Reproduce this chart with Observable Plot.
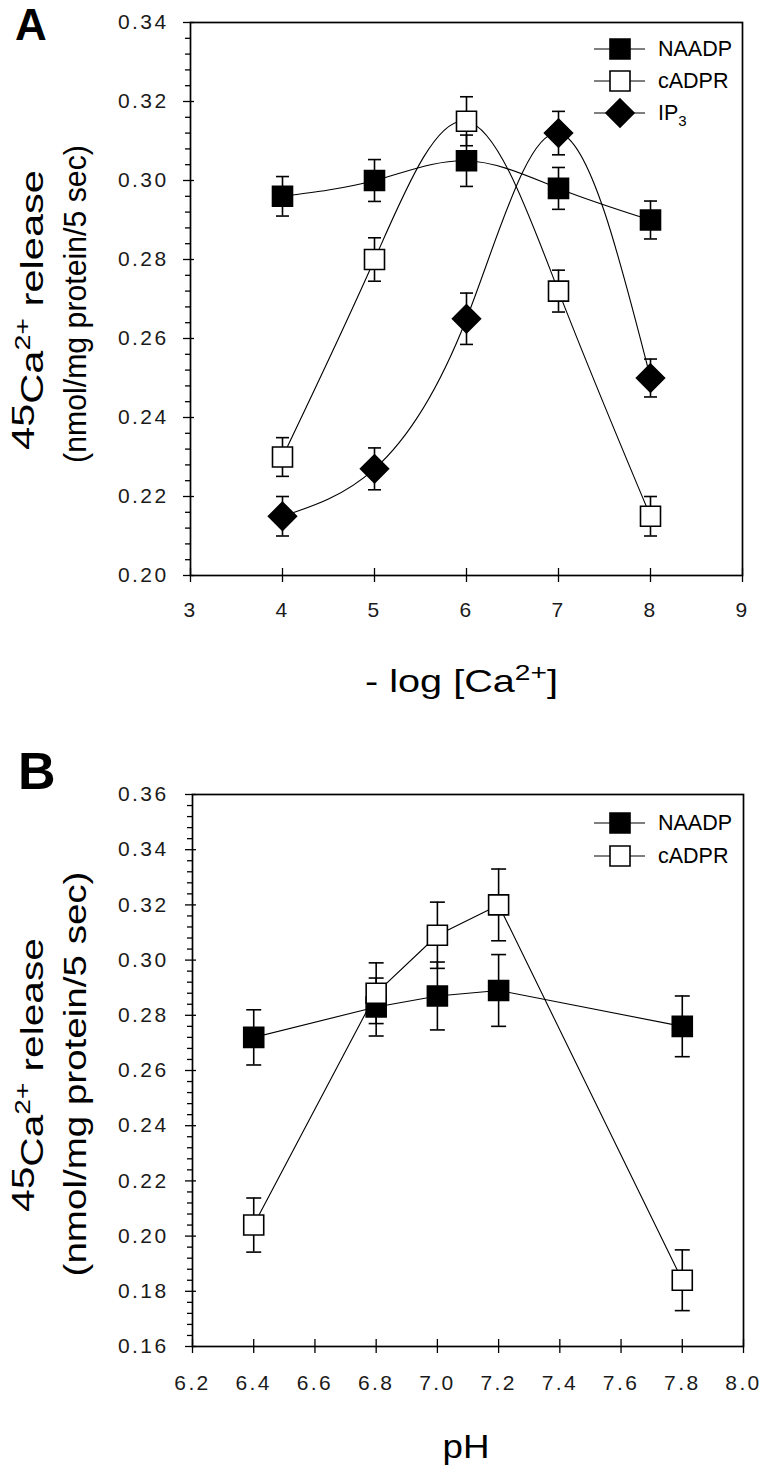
<!DOCTYPE html>
<html><head><meta charset="utf-8">
<script src="https://cdn.jsdelivr.net/npm/d3@7"></script>
<script src="https://cdn.jsdelivr.net/npm/@observablehq/plot@0.6"></script>
<style>
body{margin:0;background:#fff;}
#wrap{width:760px;}
svg{display:block;}
</style></head><body><div id="wrap"></div>
<script>
// ---------- Panel A data: -log[Ca2+] ----------
const caX = [4, 5, 6, 7, 8];
const caNAADP = [0.296, 0.300, 0.305, 0.298, 0.290];
const caNAADPerr = [0.005, 0.0053, 0.0065, 0.0053, 0.0048];
const caCADPR = [0.230, 0.280, 0.315, 0.272, 0.215];
const caCADPRerr = [0.0049, 0.0055, 0.0062, 0.0053, 0.005];
const caIP3 = [0.215, 0.227, 0.265, 0.312, 0.250];
const caIP3err = [0.005, 0.0053, 0.0065, 0.0055, 0.0048];
const caXTicks = [3, 4, 5, 6, 7, 8, 9];
const caYTicks = [0.20, 0.22, 0.24, 0.26, 0.28, 0.30, 0.32, 0.34];

// ---------- Panel B data: pH ----------
const pHX = [6.4, 6.8, 7.0, 7.2, 7.8];
const pHNAADP = [0.272, 0.283, 0.287, 0.289, 0.276];
const pHNAADPerr = [0.010, 0.0105, 0.0123, 0.013, 0.011];
const pHCADPR = [0.204, 0.288, 0.309, 0.320, 0.184];
const pHCADPRerr = [0.0098, 0.011, 0.012, 0.013, 0.011];
const pHXTicks = [6.2, 6.4, 6.6, 6.8, 7.0, 7.2, 7.4, 7.6, 7.8, 8.0];
const pHYTicks = [0.16, 0.18, 0.20, 0.22, 0.24, 0.26, 0.28, 0.30, 0.32, 0.34, 0.36];

const FONT = "'Liberation Sans', Arial, Helvetica, sans-serif";

// minor ticks: 4 between each major
function minors(majors) {
  const out = [];
  for (let i = 0; i < majors.length - 1; i++)
    for (let k = 1; k < 5; k++) out.push(majors[i] + (majors[i + 1] - majors[i]) * k / 5);
  return out;
}

// symbols
const squareSym = {draw(c, size) { const r = Math.sqrt(size / Math.PI); c.moveTo(-r, -r); c.lineTo(r, -r); c.lineTo(r, r); c.lineTo(-r, r); c.closePath(); }};
const diamondSym = {draw(c, size) { const r = Math.sqrt(size / Math.PI); c.moveTo(0, -r); c.lineTo(r, 0); c.lineTo(0, r); c.lineTo(-r, 0); c.closePath(); }};
const capSym = {draw(c, size) { const r = Math.sqrt(size / Math.PI); c.moveTo(-r, 0); c.lineTo(r, 0); }};

const styles = {
  NAADP: {sym: squareSym, r: 10, fill: "black"},
  cADPR: {sym: squareSym, r: 10, fill: "white"},
  IP3: {sym: diamondSym, r: 14, fill: "black"}
};

function buildRows(xs, series) {
  const rows = [];
  for (const [name, ys, es] of series)
    xs.forEach((x, i) => rows.push({series: name, x, y: ys[i], e: es[i]}));
  return rows;
}

const rowsA = buildRows(caX, [["NAADP", caNAADP, caNAADPerr], ["cADPR", caCADPR, caCADPRerr], ["IP3", caIP3, caIP3err]]);
const rowsB = buildRows(pHX, [["NAADP", pHNAADP, pHNAADPerr], ["cADPR", pHCADPR, pHCADPRerr]]);

function seriesMarks(rows, name, capR) {
  const d = rows.filter(r => r.series === name);
  const s = styles[name];
  return [
    Plot.ruleX(d, {x: "x", y1: r => r.y - r.e, y2: r => r.y + r.e, stroke: "black", strokeWidth: 1.6}),
    Plot.dot(d, {x: "x", y: r => r.y + r.e, symbol: capSym, r: capR, stroke: "black", fill: "none", strokeWidth: 1.6}),
    Plot.dot(d, {x: "x", y: r => r.y - r.e, symbol: capSym, r: capR, stroke: "black", fill: "none", strokeWidth: 1.6}),
    Plot.dot(d, {x: "x", y: "y", symbol: s.sym, r: s.r, fill: s.fill, stroke: "black", strokeWidth: 1.6})
  ];
}

function axes(xTicks, yTicks, xFmt, yPad, xPad) {
  return [
    Plot.axisY(minors(yTicks), {tickSize: 5, tickFormat: () => "", strokeWidth: 1.3, label: null}),
    Plot.axisY(yTicks, {tickSize: 11, dx: 4, tickFormat: () => "", strokeWidth: 1.3, label: null}),
    Plot.axisY(yTicks, {tickSize: 0, tickPadding: yPad, tickFormat: d3.format(".2f"), label: null, fontSize: 21, fill: "#1a1a1a"}),
    Plot.axisX(xTicks, {tickSize: 14, dy: -7, tickFormat: () => "", strokeWidth: 1.3, label: null}),
    Plot.axisX(xTicks, {tickSize: 0, tickPadding: xPad, tickFormat: xFmt, label: null, fontSize: 21, fill: "#1a1a1a"})
  ];
}

const baseStyle = {fontFamily: FONT, fontSize: "21px", color: "black", background: "white", overflow: "visible"};

const plotA = Plot.plot({
  width: 760, height: 720,
  marginLeft: 190, marginRight: 18, marginTop: 22, marginBottom: 145,
  x: {domain: [3, 9], label: null},
  y: {domain: [0.20, 0.34], label: null},
  style: baseStyle,
  marks: [
    Plot.line(rowsA, {x: "x", y: "y", z: "series", curve: "natural", stroke: "black", strokeWidth: 1.1}),
    ...seriesMarks(rowsA, "NAADP", 6.5),
    ...seriesMarks(rowsA, "cADPR", 6.5),
    ...seriesMarks(rowsA, "IP3", 6.5),
    ...axes(caXTicks, caYTicks, d => String(d), 22, 27),
    Plot.frame({stroke: "black", strokeWidth: 1.7})
  ]
});

const plotB = Plot.plot({
  width: 760, height: 747,
  marginLeft: 192, marginRight: 17, marginTop: 74, marginBottom: 121,
  x: {domain: [6.2, 8.0], label: null},
  y: {domain: [0.16, 0.36], label: null},
  style: baseStyle,
  marks: [
    Plot.line(rowsB, {x: "x", y: "y", z: "series", stroke: "black", strokeWidth: 1.1}),
    ...seriesMarks(rowsB, "NAADP", 7.5),
    ...seriesMarks(rowsB, "cADPR", 7.5),
    ...axes(pHXTicks, pHYTicks, d3.format(".1f"), 24, 29),
    Plot.frame({stroke: "black", strokeWidth: 1.7})
  ]
});

const wrap = document.getElementById("wrap");
wrap.appendChild(plotA);
wrap.appendChild(plotB);

// wide letter spacing of the original tick labels
for (const svg of [plotA, plotB]) {
  d3.select(svg).selectAll('g[aria-label$="tick label"] text')
    .style("letter-spacing", "2.4px").style("font-size", "21px");
}

function addText(svgNode, {x, y, rotate = 0, target = null, size, parts, anchor = "middle", weight = "normal"}) {
  const svg = d3.select(svgNode);
  const g = svg.append("g").attr("transform", `translate(${x},${y}) rotate(${rotate})`);
  const inner = g.append("g");
  const t = inner.append("text")
    .attr("text-anchor", anchor).attr("font-size", size).attr("font-family", FONT)
    .attr("font-weight", weight).attr("letter-spacing", 0).attr("fill", "black");
  for (const p of parts)
    t.append("tspan").attr("font-size", p.size || size).attr("dy", p.dy || 0).text(p.text);
  if (target) {
    const w = t.node().getComputedTextLength();
    if (w > 0) inner.attr("transform", `scale(${target / w},1)`);
  }
}

function yLabel(svgNode, cy1, cy2, len1, len2, base1, base2) {
  addText(svgNode, {x: base1, y: cy1, rotate: -90, target: len1, size: 32, parts: [
    {text: "45", dy: -9}, {text: "Ca", dy: 9}, {text: "2+", size: 22, dy: -13}, {text: " release", dy: 13}
  ]});
  addText(svgNode, {x: base2, y: cy2, rotate: -90, target: len2, size: 32, parts: [
    {text: "(nmol/mg protein/5 sec)"}
  ]});
}

function legend(svgNode, entries, rows) {
  const svg = d3.select(svgNode);
  entries.forEach((name, i) => {
    const y = rows[i];
    const s = styles[name];
    svg.append("line").attr("x1", 594).attr("x2", 645).attr("y1", y).attr("y2", y).attr("stroke", "black").attr("stroke-width", 1.2);
    svg.append("path").attr("transform", `translate(620,${y})`)
      .attr("d", d3.symbol(s.sym, s.r * s.r * Math.PI)())
      .attr("fill", s.fill).attr("stroke", "black").attr("stroke-width", 1.6);
    const parts = name === "IP3" ? [{text: "IP"}, {text: "3", size: 15, dy: 6}] : [{text: name}];
    addText(svgNode, {x: 658, y: y + 7, size: 21.5, parts, anchor: "start"});
  });
}

// Panel A annotations
addText(plotA, {x: 15, y: 40, size: 44, weight: "bold", parts: [{text: "A"}], anchor: "start"});
yLabel(plotA, 310, 304, 280, 318, 43, 86);
addText(plotA, {x: 461.5, y: 692, target: 193, size: 31, parts: [
  {text: "- log [Ca"}, {text: "2+", size: 22, dy: -12}, {text: "]", dy: 12}
]});
legend(plotA, ["NAADP", "cADPR", "IP3"], [49, 81, 113]);

// Panel B annotations (svg starts at page y = 720)
addText(plotB, {x: 18, y: 69, size: 52, weight: "bold", parts: [{text: "B"}], anchor: "start"});
yLabel(plotB, 355, 354, 274, 405, 43, 86);
addText(plotB, {x: 466, y: 738, target: 47, size: 34, parts: [{text: "pH"}]});
legend(plotB, ["NAADP", "cADPR"], [103, 136]);
</script></body></html>
